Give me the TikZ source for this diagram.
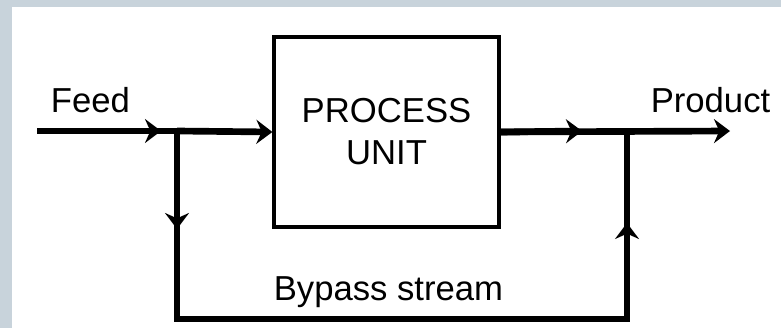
\documentclass[tikz,border=0pt]{standalone}
\usepackage{fontspec}
\setmainfont{Liberation Sans}
\usetikzlibrary{arrows.meta}
\definecolor{cadre}{HTML}{C8D3DB}
\begin{document}
\begin{tikzpicture}[x=0.75pt,y=-0.75pt]
            \tikzstyle{bloc}=[draw,line width=2.4pt,minimum width=168.75pt,minimum height=142.5pt,align=center,inner sep=0pt,font=\fontsize{26}{31.5}\selectfont]
            \tikzset{flux/.style = {line width=5pt}}
            \tikzset{tete/.style = {-{Stealth[length=12pt,width=18pt,inset=4pt]}}}
            \tikzset{texte/.style = {anchor=base,inner sep=0pt,font=\fontsize{26}{31.5}\selectfont}}
            \fill[cadre] (0,0) rectangle (781,328);
            \fill[white] (12,7) rectangle (781,328);
            \node[bloc] (unit) at (386.5,132) {PROCESS\\UNIT};
            \coordinate (in) at (37,131);
            \coordinate (split) at (177,131);
            \coordinate (mix) at (627,131);
            \coordinate (out) at (730,131);
            \coordinate (bl) at (177,319);
            \coordinate (br) at (627,319);
            \coordinate (f1) at (161,131);
            \coordinate (f2) at (582,131);
            \coordinate (d1) at (177,229);
            \coordinate (u1) at (627,223);
            \draw[flux] (in) -- (split);
            \draw[flux,tete] (in) -- (f1);
            \draw[flux,tete] (split) -- (unit.west);
            \draw[flux,tete] (unit.east) -- (out);
            \draw[flux,tete] (unit.east) -- (f2);
            \draw[flux] (split) -- (bl) -- (br) -- (mix);
            \draw[flux,tete] (split) -- (d1);
            \draw[flux,tete] (br) -- (u1);
            \node[texte] (feed) at (90.5,112) {Feed};
            \node[texte] (product) at (710.5,112) {Product};
            \node[texte] (bypass) at (388.5,300) {Bypass stream};
\end{tikzpicture}
\end{document}
